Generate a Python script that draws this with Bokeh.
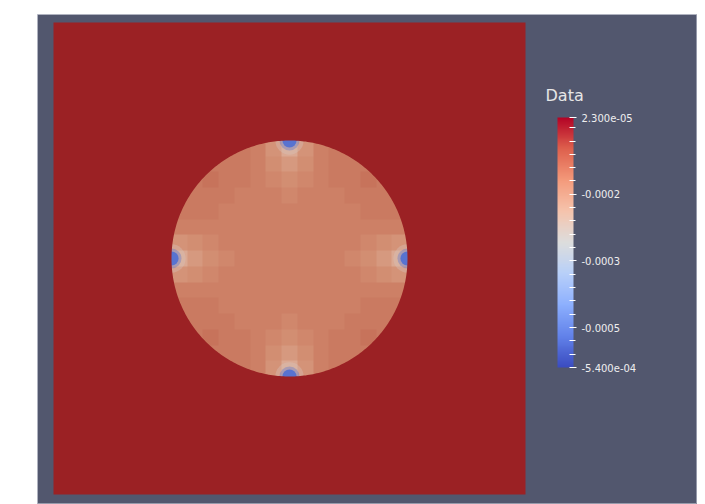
import numpy as np
from bokeh.plotting import figure
from bokeh.models import (LinearColorMapper, ColorBar, FixedTicker, Label,
                          ColumnDataSource, AllLabels)
from bokeh.transform import transform
from bokeh.embed import file_html
from bokeh.resources import INLINE

# ---------------- data ----------------
VALUE_MIN = -5.4e-4
VALUE_MAX = 2.3e-5
UNIT = 1e-5            # field values below are given in units of 1e-5
DOMAIN_HALF = 2.0      # square domain [-2, 2] x [-2, 2]
RADIUS = 1.0           # circular inclusion centred at the origin

# field inside the circle, 15 x 15 cells, rows listed top -> bottom (units of 1e-5)
field_rows = [
    [-9, -9, -9, -9, -9, -10, -13, -17, -13, -10, -9, -9, -9, -9, -9],
    [-9, -9, -9, -9, -9, -10, -12, -14, -12, -10, -9, -9, -9, -9, -9],
    [-9, -9, -8, -9, -9, -10, -11, -12, -11, -10, -9, -9, -8, -9, -9],
    [-9, -9, -9, -9, -10, -10, -10, -11, -10, -10, -10, -9, -9, -9, -9],
    [-9, -9, -9, -10, -10, -10, -10, -10, -10, -10, -10, -10, -9, -9, -9],
    [-10, -10, -10, -10, -10, -10, -10, -10, -10, -10, -10, -10, -10, -10, -10],
    [-13, -12, -11, -10, -10, -10, -10, -10, -10, -10, -10, -10, -11, -12, -13],
    [-17, -14, -12, -11, -10, -10, -10, -10, -10, -10, -10, -11, -12, -14, -17],
    [-13, -12, -11, -10, -10, -10, -10, -10, -10, -10, -10, -10, -11, -12, -13],
    [-10, -10, -10, -10, -10, -10, -10, -10, -10, -10, -10, -10, -10, -10, -10],
    [-9, -9, -9, -10, -10, -10, -10, -10, -10, -10, -10, -10, -9, -9, -9],
    [-9, -9, -9, -9, -10, -10, -10, -11, -10, -10, -10, -9, -9, -9, -9],
    [-9, -9, -8, -9, -9, -10, -11, -12, -11, -10, -9, -9, -8, -9, -9],
    [-9, -9, -9, -9, -9, -10, -12, -14, -12, -10, -9, -9, -9, -9, -9],
    [-9, -9, -9, -9, -9, -10, -13, -17, -13, -10, -9, -9, -9, -9, -9],
]

# minimum spots on the circle boundary
spot_x = [0.0, 0.0, -1.0, 1.0]
spot_y = [1.0, -1.0, 0.0, 0.0]
spot_halo_value = [-2.4e-4, -2.4e-4, -2.4e-4, -2.4e-4]
spot_core_value = [-5.1e-4, -5.1e-4, -5.1e-4, -5.1e-4]

# colour bar ticks
cb_major = [2.3e-5, -1.5e-4, -3.0e-4, -4.5e-4, -5.4e-4]
cb_labels = ["2.300e-05", "-0.0002", "-0.0003", "-0.0005", "-5.400e-04"]
cb_minor = [0.0, -3e-5, -6e-5, -9e-5, -1.2e-4, -1.8e-4, -2.1e-4, -2.4e-4,
            -2.7e-4, -3.3e-4, -3.6e-4, -3.9e-4, -4.2e-4, -4.8e-4, -5.1e-4]

# ---------------- colours ----------------
# colour legend: cool-warm map
bar_anchors = [(59, 76, 192), (98, 130, 234), (141, 176, 254), (184, 208, 249),
               (221, 221, 221), (245, 196, 173), (244, 154, 123), (222, 96, 77),
               (180, 4, 38)]
# the same map as it appears on the shaded surface
lit_anchors = [(65, 95, 205), (100, 135, 220), (135, 165, 230), (180, 190, 220),
               (212, 204, 202), (222, 180, 160), (210, 140, 112), (190, 95, 75),
               (155, 33, 36)]


def make_palette(anchors):
    a = np.array(anchors, dtype=float)
    pos = np.linspace(0, 1, len(a))
    out = []
    for ti in np.linspace(0, 1, 256):
        rgb = [np.interp(ti, pos, a[:, k]) for k in range(3)]
        out.append("#%02x%02x%02x" % tuple(int(round(c)) for c in rgb))
    return out


bar_palette = make_palette(bar_anchors)
lit_palette = make_palette(lit_anchors)
bar_mapper = LinearColorMapper(palette=bar_palette, low=VALUE_MIN, high=VALUE_MAX)
lit_mapper = LinearColorMapper(palette=lit_palette, low=VALUE_MIN, high=VALUE_MAX)

BG = "#52576e"

# ---------------- figure ----------------
px = 118.0  # pixels per data unit
W, H = 697, 504
LEFT, TOP = 37, 14
frame_w, frame_h = W - LEFT, H - TOP
x0 = -DOMAIN_HALF - 16 / px
y1 = DOMAIN_HALF + 8 / px
p = figure(width=W, height=H,
           x_range=(x0, x0 + frame_w / px), y_range=(y1 - frame_h / px, y1),
           output_backend="svg", toolbar_location=None,
           x_axis_location=None, y_axis_location=None,
           min_border_left=LEFT, min_border_right=0, min_border_top=TOP, min_border_bottom=0,
           background_fill_color=BG, border_fill_color="white",
           outline_line_color="#b4b7c4", outline_line_alpha=0.7)
p.grid.visible = False

field = np.flipud(np.array(field_rows, dtype=float)) * UNIT
p.image(image=[field], x=-RADIUS, y=-RADIUS, dw=2 * RADIUS, dh=2 * RADIUS,
        color_mapper=lit_mapper)

spots = ColumnDataSource(dict(x=spot_x, y=spot_y, halo=spot_halo_value, core=spot_core_value))
p.circle(x="x", y="y", radius=0.12, source=spots,
         fill_color=transform("halo", lit_mapper), line_color=None, fill_alpha=0.35)
p.circle(x="x", y="y", radius=0.085, source=spots,
         fill_color=transform("core", lit_mapper), line_color=None, fill_alpha=0.35)
p.circle(x="x", y="y", radius=0.06, source=spots,
         fill_color=transform("core", lit_mapper), line_color=None, fill_alpha=0.9)

# red domain around the circle (square with a circular hole)
theta = np.linspace(0, 2 * np.pi, 400)
hole_x = list(RADIUS * np.cos(theta))
hole_y = list(RADIUS * np.sin(theta))
sq_x = [-DOMAIN_HALF, DOMAIN_HALF, DOMAIN_HALF, -DOMAIN_HALF]
sq_y = [-DOMAIN_HALF, -DOMAIN_HALF, DOMAIN_HALF, DOMAIN_HALF]
p.multi_polygons(xs=[[[sq_x, hole_x]]], ys=[[[sq_y, hole_y]]],
                 fill_color=lit_palette[-1], line_color=None)

cb = ColorBar(color_mapper=bar_mapper,
              ticker=FixedTicker(ticks=cb_major, minor_ticks=cb_minor),
              major_label_overrides=dict(zip(cb_major, cb_labels)),
              major_label_policy=AllLabels(),
              location=(520, H - 367), width=16, height=250, padding=0,
              background_fill_alpha=0, border_line_color=None, bar_line_color=None,
              major_tick_line_color="white", major_tick_in=4, major_tick_out=3,
              minor_tick_line_color="white", minor_tick_in=4, minor_tick_out=2,
              label_standoff=5, major_label_text_color="#eeeeee",
              major_label_text_font_size="10px", major_label_text_font="DejaVu Sans")
p.add_layout(cb)

title = Label(x=x0 + (545 - LEFT) / px, y=y1 - (104 - TOP) / px, text="Data",
              text_color="#e6e6e6", text_font_size="16px", text_font="DejaVu Sans",
              text_baseline="bottom")
p.add_layout(title)

open("out.html", "w").write(file_html(p, INLINE))
